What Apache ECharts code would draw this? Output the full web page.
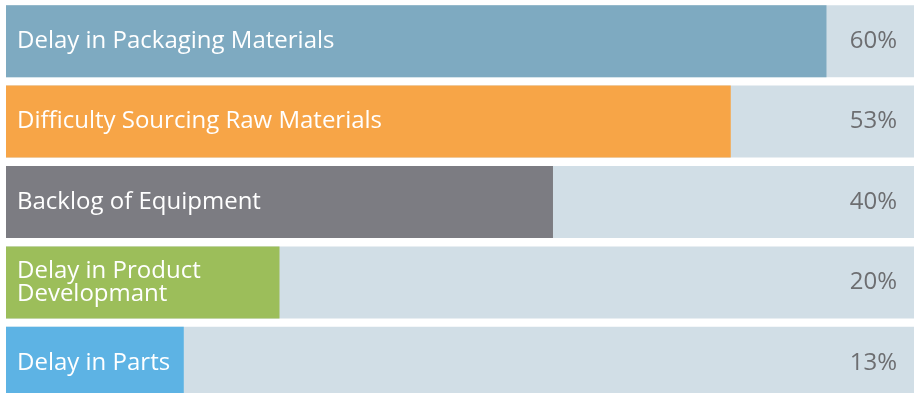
<!DOCTYPE html>
<html>
<head>
<meta charset="utf-8">
<script src="https://cdn.jsdelivr.net/npm/echarts@6/dist/echarts.min.js"></script>
<style>
html, body { margin: 0; padding: 0; background: #fff; overflow: hidden; }
#main { width: 914px; height: 403px; }
</style>
</head>
<body>
<div id="main"></div>
<script>
var categories = ['Delay in Packaging Materials', 'Difficulty Sourcing Raw Materials', 'Backlog of Equipment', 'Delay in Product\nDevelopmant', 'Delay in Parts'];
var values = [60, 53, 40, 20, 13];
var barColors = ['#7eaac1', '#f7a547', '#7c7c82', '#9cbe5a', '#5db3e4'];
var axisMax = 66.4;

// 最后一行在窗口底部被裁掉一点，所以容器比窗口高
var myChart = echarts.init(document.getElementById('main'));

var bgData = [];
var fgData = [];
for (var i = 0; i < values.length; i++) {
    bgData.push(axisMax);
    fgData.push({
        value: values[i],
        itemStyle: { color: barColors[i] }
    });
}

var option = {
    animation: false,
    grid: { left: 6, right: 0, top: 1, bottom: 0, containLabel: false },
    xAxis: { type: 'value', min: 0, max: axisMax, show: false },
    yAxis: { type: 'category', data: categories, inverse: true, show: false },
    series: [{
        type: 'bar',
        data: bgData,
        barWidth: 72,
        barGap: '-100%',
        silent: true,
        itemStyle: { color: '#d1dee6' },
        label: {
            show: true,
            position: 'insideRight',
            distance: 17,
            color: '#6d6e71',
            fontSize: 24,
            fontFamily: 'Open Sans',
            formatter: function(p) {
                return values[p.dataIndex] + '%';
            }
        }
    }, {
        type: 'bar',
        data: fgData,
        barWidth: 72,
        barGap: '-100%',
        label: {
            show: true,
            position: 'insideLeft',
            distance: 11,
            color: '#ffffff',
            fontSize: 24,
            lineHeight: 23,
            fontFamily: 'Open Sans',
            formatter: function(p) {
                return categories[p.dataIndex];
            }
        }
    }]
};

myChart.setOption(option);
</script>
</body>
</html>
